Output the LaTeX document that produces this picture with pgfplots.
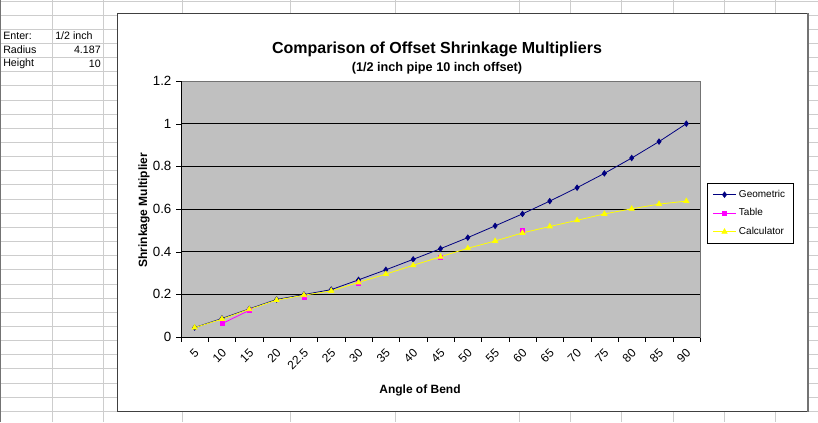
\documentclass[border=0pt]{standalone}
\usepackage{pgfplots}
\pgfplotsset{compat=1.18}
\usepackage{fontspec}
\setmainfont{Liberation Sans}
\definecolor{plotgray}{RGB}{192,192,192}
\definecolor{geonavy}{RGB}{0,0,128}
\definecolor{tablemag}{RGB}{255,0,255}
\definecolor{calcyel}{RGB}{255,255,0}
\definecolor{cellline}{RGB}{205,205,205}

\begin{document}
\begin{tikzpicture}
% spreadsheet behind the chart (1 unit = 1 screen pixel)
\begin{scope}[x=0.75pt,y=-0.75pt]
  \useasboundingbox (0,0) rectangle (818,422);
  \fill[white] (0,0) rectangle (818,422);
  \foreach \c in {52,103,182,290,395,519,570,621,673,724,775}
    \draw[cellline, line width=0.75pt] (\c,0) -- (\c,422);
  \foreach \r in {0,...,29}
    \draw[cellline, line width=0.75pt] (0,{1+14.15*\r}) -- (818,{1+14.15*\r});
  \draw[black!55, line width=1pt] (0.5,0) -- (0.5,422);
  \begin{scope}[font=\fontsize{8}{9}\selectfont, inner sep=0pt]
    \node[anchor=west] at (3,36) {Enter:};
    \node[anchor=west] at (55,36) {1/2 inch};
    \node[anchor=west] at (3,50) {Radius};
    \node[anchor=east] at (101,50) {4.187};
    \node[anchor=west] at (3,64) {Height};
    \node[anchor=east] at (101,64) {10};
  \end{scope}
  % chart area
  \fill[white] (117,13) rectangle (807,411);
  \draw[black!75, line width=0.75pt] (117,13) rectangle (807,411);
  \draw[black!55, line width=1.5pt] (808,13) -- (808,412);
  \node[font=\bfseries\fontsize{12}{14}\selectfont] at (437,49) {Comparison of Offset Shrinkage Multipliers};
  \node[font=\bfseries\fontsize{9.5}{11}\selectfont] at (437,68) {(1/2 inch pipe 10 inch offset)};
  \node[font=\bfseries\fontsize{9}{11}\selectfont] at (420,390) {Angle of Bend};
  \node[font=\bfseries\fontsize{9}{11}\selectfont, rotate=90] at (144,210) {Shrinkage Multiplier};
\end{scope}

\begin{axis}[
    at={(135.75pt,-252.75pt)}, anchor=south west,
    scale only axis,
    width=389.25pt, height=192pt,
    xmin=-0.5, xmax=18.5,
    ymin=0, ymax=1.2,
    axis background/.style={fill=plotgray},
    axis line style={draw=black!55},
    ytick={0,0.2,0.4,0.6,0.8,1,1.2},
    ymajorgrids, grid style={black, line width=0.6pt},
    xtick={0,...,18},
    xticklabels={5,10,15,20,22.5,25,30,35,40,45,50,55,60,65,70,75,80,85,90},
    minor xtick={-0.5,0.5,...,18.5},
    major x tick style={draw=none},
    minor x tick style={black},
    y tick style={black},
    tick align=outside,
    major tick length=3.5pt, minor tick length=3.5pt,
    xtick pos=bottom, ytick pos=left,
    /pgf/number format/assume math mode=true,
    yticklabel style={font=\fontsize{10}{12}\selectfont, inner sep=3.5pt},
    xticklabel style={font=\fontsize{9}{11}\selectfont, rotate=45,
        anchor=east, inner sep=0.5pt, xshift=-3pt, yshift=-6pt},
    unbounded coords=jump,
    legend style={at={(1.0135,0.6016)}, anchor=north west,
        draw=black, fill=white, line width=0.6pt,
        font=\fontsize{7.5}{9}\selectfont, row sep=3pt,
        inner xsep=4pt, inner ysep=3pt},
    legend cell align=left,
]
\addplot[geonavy, line width=0.6pt, mark=diamond*, mark size=2pt,
    mark options={fill=geonavy}] coordinates {
    (0,0.044) (1,0.087) (2,0.132) (3,0.176) (4,0.199) (5,0.222)
    (6,0.268) (7,0.315) (8,0.364) (9,0.414) (10,0.466) (11,0.521)
    (12,0.577) (13,0.637) (14,0.700) (15,0.767) (16,0.839) (17,0.916)
    (18,1.000)
};
\addlegendentry{Geometric}
\addplot[tablemag, line width=0.6pt, mark=square*, mark size=1.5pt,
    mark options={fill=tablemag}] coordinates {
    (1,0.0625) (2,0.125) (3,nan) (4,0.1875) (5,nan) (6,0.25) (7,nan)
    (9,0.375) (10,nan) (12,0.5)
};
\addlegendentry{Table}
\addplot[calcyel, line width=0.6pt, mark=triangle*, mark size=2.2pt,
    mark options={fill=calcyel}] coordinates {
    (0,0.044) (1,0.084) (2,0.130) (3,0.173) (4,0.196) (5,0.216)
    (6,0.256) (7,0.295) (8,0.336) (9,0.376) (10,0.416) (11,0.450)
    (12,0.488) (13,0.518) (14,0.547) (15,0.577) (16,0.601) (17,0.623)
    (18,0.637)
};
\addlegendentry{Calculator}
\draw[black, line width=0.6pt] (rel axis cs:0,1) -- (rel axis cs:0,0) -- (rel axis cs:1,0);
\end{axis}
\end{tikzpicture}
\end{document}
